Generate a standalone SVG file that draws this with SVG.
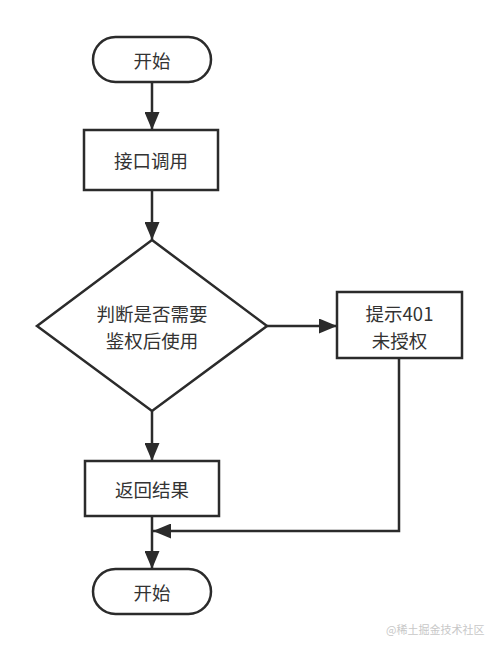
<svg xmlns="http://www.w3.org/2000/svg" width="498" height="651" viewBox="0 0 498 651">
<defs>
<style>
.shape{fill:#fff;stroke:#2b2b2b;stroke-width:2.5}
.edge{fill:none;stroke:#2b2b2b;stroke-width:2.5}
.lbl{font-family:"Noto Sans CJK SC","Noto Sans",sans-serif;font-size:18.5px;fill:#333;text-anchor:middle;dominant-baseline:central}
.wm{font-family:"Noto Sans CJK SC","Noto Sans",sans-serif;font-size:11px;fill:#c8c8c8}
</style>
<marker id="arr" viewBox="0 0 18 15" refX="18" refY="7.5" markerWidth="18" markerHeight="15" markerUnits="userSpaceOnUse" orient="auto">
<path d="M0,0 L18,7.5 L0,15 Z" fill="#2b2b2b"/>
</marker>
</defs>
<rect width="498" height="651" fill="#fff"/>
<g id="connectors">
<line class="edge" x1="152" y1="82" x2="152" y2="130" marker-end="url(#arr)"/>
<line class="edge" x1="152" y1="190" x2="152" y2="240" marker-end="url(#arr)"/>
<line class="edge" x1="267" y1="326" x2="337" y2="326" marker-end="url(#arr)"/>
<line class="edge" x1="152" y1="411" x2="152" y2="461" marker-end="url(#arr)"/>
<line class="edge" x1="152" y1="516" x2="152" y2="569" marker-end="url(#arr)"/>
<polyline class="edge" points="399,358 399,531 153,531" marker-end="url(#arr)"/>
</g>
<g id="start">
<rect class="shape" x="93" y="37" width="118" height="45" rx="22.5"/>
<text class="lbl" x="152" y="59.5">开始</text>
</g>
<g id="call">
<rect class="shape" x="84" y="130" width="134" height="60"/>
<text class="lbl" x="151" y="160">接口调用</text>
</g>
<g id="decision">
<polygon class="shape" points="152,240 267,326 152,411 37,326"/>
<text class="lbl" x="152" y="312.5">判断是否需要</text>
<text class="lbl" x="152" y="339.5">鉴权后使用</text>
</g>
<g id="unauth">
<rect class="shape" x="337" y="292" width="125" height="66"/>
<text class="lbl" x="399.5" y="312.5">提示401</text>
<text class="lbl" x="399.5" y="339.5">未授权</text>
</g>
<g id="result">
<rect class="shape" x="85" y="461" width="134" height="55"/>
<text class="lbl" x="152" y="488.5">返回结果</text>
</g>
<g id="end">
<rect class="shape" x="93" y="569" width="118" height="45" rx="22.5"/>
<text class="lbl" x="152" y="591.5">开始</text>
</g>
<text class="wm" x="386" y="634">@稀土掘金技术社区</text>
</svg>
